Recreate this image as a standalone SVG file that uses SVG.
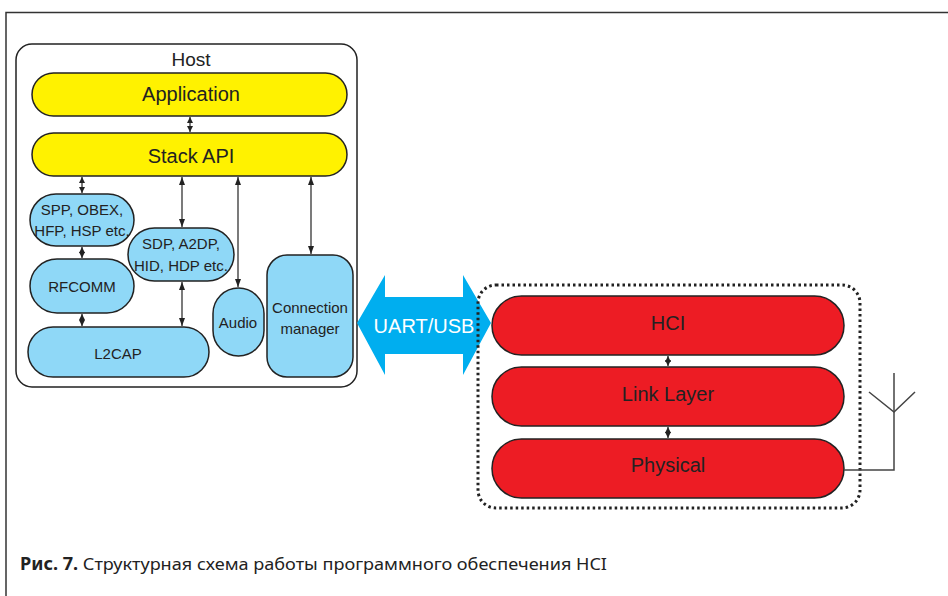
<svg xmlns="http://www.w3.org/2000/svg" width="948" height="596" viewBox="0 0 948 596">
<defs>
<marker id="ah" viewBox="0 0 8 8" refX="8" refY="4" markerWidth="8" markerHeight="8" markerUnits="userSpaceOnUse" orient="auto-start-reverse">
<path d="M0,1 L8,4 L0,7 Z" fill="#222"/>
</marker>
<marker id="sh" viewBox="0 0 6 6" refX="6" refY="3" markerWidth="6" markerHeight="6" markerUnits="userSpaceOnUse" orient="auto-start-reverse">
<path d="M0,0 L6,3 L0,6 Z" fill="#222"/>
</marker>
<style>
.lbl{font-family:"Liberation Sans",Arial,sans-serif;fill:#222;text-anchor:middle}
.y{fill:#fff200;stroke:#222;stroke-width:1.5}
.b{fill:#8fd8f7;stroke:#222;stroke-width:1.5}
.r{fill:#ed1c24;stroke:#222;stroke-width:1.5}
.c{stroke:#222;stroke-width:1.2;fill:none;marker-start:url(#ah);marker-end:url(#ah)}
.s{stroke:#222;stroke-width:1.2;fill:none;marker-start:url(#sh);marker-end:url(#sh)}
</style>
</defs>
<rect width="948" height="596" fill="#fff"/>
<path d="M6,596 L6,12.5 L948,12.5" fill="none" stroke="#333" stroke-width="1.5"/>

<g id="host">
<rect x="16" y="44" width="341" height="343" rx="16" fill="#fff" stroke="#222" stroke-width="1.5"/>
<text class="lbl" x="191" y="66" font-size="19">Host</text>
</g>
<g id="application">
<rect class="y" x="32" y="73" width="315" height="43" rx="21.5"/>
<text class="lbl" x="191" y="101" font-size="20">Application</text>
</g>
<g id="stackapi">
<rect class="y" x="32" y="133" width="315" height="43" rx="21.5"/>
<text class="lbl" x="191" y="163" font-size="20">Stack API</text>
</g>
<g id="spp">
<rect class="b" x="30" y="194" width="104" height="52" rx="26"/>
<text class="lbl" x="82" y="215" font-size="15">SPP, OBEX,</text>
<text class="lbl" x="82" y="236" font-size="15">HFP, HSP etc.</text>
</g>
<g id="rfcomm">
<rect class="b" x="30" y="259" width="104" height="54" rx="27"/>
<text class="lbl" x="82" y="292" font-size="15">RFCOMM</text>
</g>
<g id="l2cap">
<rect class="b" x="28" y="327" width="181" height="50" rx="25"/>
<text class="lbl" x="118" y="359" font-size="15">L2CAP</text>
</g>
<g id="sdp">
<rect class="b" x="128" y="228" width="106" height="53" rx="26.5"/>
<text class="lbl" x="181" y="249" font-size="15">SDP, A2DP,</text>
<text class="lbl" x="181" y="271" font-size="15">HID, HDP etc.</text>
</g>
<g id="audio">
<rect class="b" x="213" y="288" width="51" height="68" rx="25.5"/>
<text class="lbl" x="238" y="328" font-size="15">Audio</text>
</g>
<g id="connmgr">
<rect class="b" x="267" y="255" width="86" height="122" rx="20"/>
<text class="lbl" x="310" y="313" font-size="15">Connection</text>
<text class="lbl" x="310" y="334" font-size="15">manager</text>
</g>

<g id="uartusb">
<path d="M357,323 L385,275 L385,297 L463,297 L463,275 L491,323 L463,375 L463,354 L385,354 L385,375 Z" fill="#00aeef"/>
<text x="424" y="333" font-size="20" font-family="Liberation Sans,Arial,sans-serif" fill="#fff" text-anchor="middle">UART/USB</text>
</g>

<g id="controller">
<rect x="478" y="285" width="382" height="223" rx="18" fill="none" stroke="#222" stroke-width="3" stroke-dasharray="2.5 3"/>
</g>
<g id="hci">
<rect class="r" x="492" y="296" width="352" height="59" rx="29.5"/>
<text class="lbl" x="668" y="330" font-size="20">HCI</text>
</g>
<g id="linklayer">
<rect class="r" x="492" y="367" width="352" height="59" rx="29.5"/>
<text class="lbl" x="668" y="401" font-size="20">Link Layer</text>
</g>
<g id="physical">
<rect class="r" x="492" y="439" width="352" height="59" rx="29.5"/>
<text class="lbl" x="668" y="472" font-size="20">Physical</text>
</g>
<g id="antenna" fill="none" stroke="#444" stroke-width="1.5">
<path d="M844,470 L894,470 L894,373"/>
<path d="M869,392 L894,412 L915,392"/>
</g>

<g id="connectors">
<line class="s" x1="190" y1="117" x2="190" y2="132"/>
<line class="s" x1="82" y1="177" x2="82" y2="193"/>
<line class="s" x1="82" y1="247" x2="82" y2="258"/>
<line class="s" x1="82" y1="314" x2="82" y2="326"/>
<line class="c" x1="182" y1="177" x2="182" y2="227"/>
<line class="c" x1="182" y1="282" x2="182" y2="326"/>
<line class="c" x1="238" y1="177" x2="238" y2="287"/>
<line class="c" x1="311" y1="177" x2="311" y2="254"/>
<line class="s" x1="668" y1="356" x2="668" y2="366"/>
<line class="s" x1="668" y1="427" x2="668" y2="438"/>
</g>

<text x="20" y="570" font-size="17" font-family="Noto Sans,Liberation Sans,sans-serif" fill="#222" textLength="587" lengthAdjust="spacingAndGlyphs"><tspan font-weight="bold">Рис. 7.</tspan> Структурная схема работы программного обеспечения HCI</text>
</svg>
